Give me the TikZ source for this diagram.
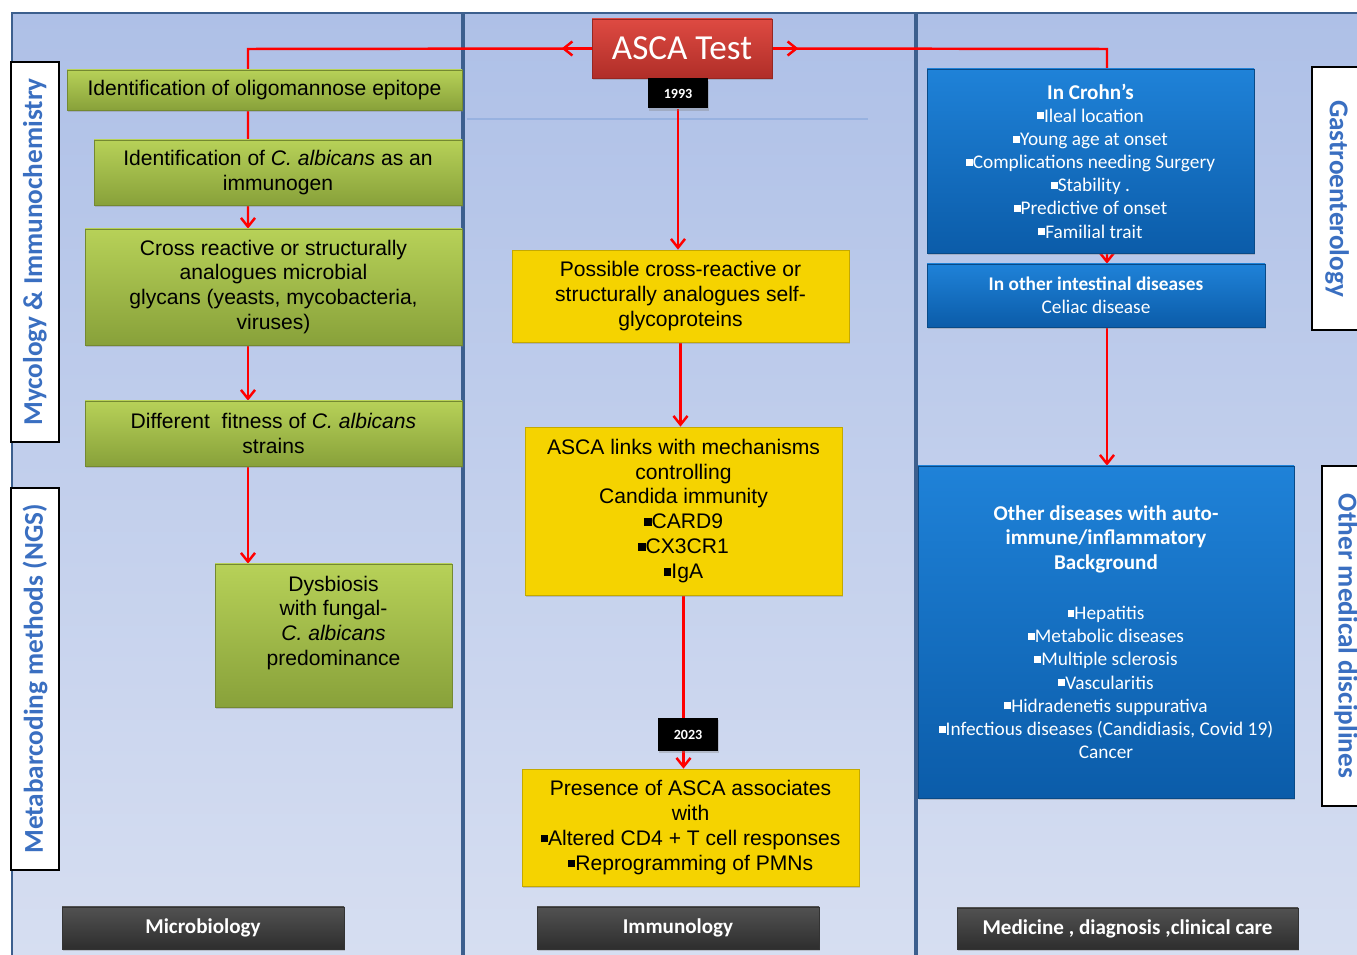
\documentclass[tikz,border=0pt]{standalone}
\usepackage{fontspec}
\setmainfont{Liberation Sans}
\newfontfamily\calib{Carlito}
\usetikzlibrary{arrows.meta,shadows}

\definecolor{panelTop}{HTML}{AEC0E7}
\definecolor{panelBot}{HTML}{D6DEF1}
\definecolor{divider}{HTML}{3C5F8E}
\definecolor{faint}{HTML}{98B2E0}
\definecolor{greenTop}{HTML}{B7D158}
\definecolor{greenBot}{HTML}{88A13A}
\definecolor{yellowFill}{HTML}{F5D300}
\definecolor{blueTop}{HTML}{1F82D8}
\definecolor{blueBot}{HTML}{0B5CA9}
\definecolor{redTop}{HTML}{DE4A42}
\definecolor{redBot}{HTML}{B02E28}
\definecolor{labelBlue}{HTML}{3A6FC1}

\newcommand{\bul}{\rule[0.15em]{0.36em}{0.36em}}
\newcommand{\ttl}[1]{{\bfseries\fontsize{12}{14.4}\selectfont #1}}

\pgfdeclarelayer{background}
\pgfdeclarelayer{wires}
\pgfsetlayers{background,wires,main}

\tikzset{
  box/.style 2 args={rectangle, minimum width=#1*0.02cm, minimum height=#2*0.02cm,
    inner sep=2pt, align=center},
  shadowed/.style={drop shadow={shadow xshift=0.8pt, shadow yshift=-1.2pt, opacity=0.35}},
  greentext/.style={font=\fontsize{12}{14.2}\selectfont, align=center},
  greenbox/.style={shadowed, draw=greenBot!85!black, top color=greenTop, bottom color=greenBot, greentext},
  yellowbox/.style={shadowed, draw=yellowFill!80!black, fill=yellowFill, greentext},
  bluebox/.style={shadowed, draw=blueBot!80!black, top color=blueTop, bottom color=blueBot,
    text=white, font=\calib\fontsize{11}{13.2}\selectfont},
  redbox/.style={shadowed, draw=redBot!85!black, top color=redTop, bottom color=redBot,
    text=white, font=\calib\fontsize{20}{24}\selectfont},
  yearbox/.style={shadowed, fill=black, text=white, font=\calib\bfseries\fontsize{8}{9}\selectfont},
  fieldbox/.style={shadowed, draw=black!80, top color=black!68, bottom color=black!82,
    text=white, font=\calib\bfseries\fontsize{12}{14}\selectfont},
  sidebox/.style={fill=white, draw=black, line width=1.6pt, text=labelBlue,
    font=\calib\bfseries\fontsize{15.5}{18}\selectfont},
  link/.style={red, line width=1.4pt, -{Straight Barb[length=5pt,width=8pt]}}
}

\begin{document}
\begin{tikzpicture}[x=0.02cm, y=-0.02cm]
  \useasboundingbox (0,0) rectangle (1357,955);
  \begin{pgfonlayer}{background}
    \shade[top color=panelTop, bottom color=panelBot] (12,13) rectangle (1357,955);
    \draw[divider, line width=1pt] (12,955) -- (12,13) -- (1357,13);
    \draw[divider, line width=2.2pt] (463,13) -- (463,955);
    \draw[divider, line width=2.2pt] (916,13) -- (916,955);
    \draw[faint, line width=0.6pt] (467,119) -- (868,119);
  \end{pgfonlayer}

  % side labels
  \node[sidebox, box={380}{48}, rotate=90] (myco) at (35,252) {Mycology \& Immunochemistry};
  \node[sidebox, box={382}{48}, rotate=90] (meta) at (35,679) {Metabarcoding methods (NGS)};
  \node[sidebox, box={263}{50}, rotate=-90] (gastro) at (1337,198.5) {Gastroenterology};
  \node[sidebox, box={340}{48}, rotate=-90] (othmed) at (1346,636) {Other medical disciplines};

  % microbiology column
  \node[greenbox, box={395}{40}] (g1) at (264.5,90) {Identification of oligomannose epitope};
  \node[greenbox, box={368}{65}] (g2) at (278,172.5) {Identification of \textit{C. albicans} as an\\immunogen};
  \node[greenbox, box={377}{116}] (g3) at (273.5,287) {Cross reactive or structurally\\analogues microbial\\glycans (yeasts, mycobacteria,\\viruses)};
  \node[greenbox, box={377}{65}] (g4) at (273.5,433.5) {Different\ \ fitness of \textit{C. albicans}\\strains};
  \node[greenbox, box={237}{143}, label={[greentext, yshift=0.25cm]center:Dysbiosis\\with fungal-\\\textit{C. albicans}\\predominance}] (g5) at (333.5,635.5) {};

  % immunology column
  \node[redbox, box={180}{59}] (asca) at (682,48.5) {ASCA Test};
  \node[yearbox, box={60}{30}] (y1993) at (678,93.5) {1993};
  \node[yellowbox, box={337}{92}] (y1) at (680.5,296) {Possible cross-reactive or\\structurally analogues self-\\glycoproteins};
  \node[yellowbox, box={317}{168}] (y2) at (683.5,511) {ASCA links with mechanisms\\controlling\\Candida immunity\\\bul CARD9\\\bul CX3CR1\\\bul IgA};
  \node[yearbox, box={60}{33}] (y2023) at (688,734.5) {2023};
  \node[yellowbox, box={337}{117}] (y3) at (690.5,827.5) {Presence of ASCA associates\\with\\\bul Altered CD4 + T cell responses\\\bul Reprogramming of PMNs};

  % medicine column
  \node[bluebox, box={327}{184}] (b1) at (1090.5,161) {\ttl{In Crohn’s}\\\bul Ileal location\\\bul Young age at onset\\\bul Complications needing Surgery\\\bul Stability .\\\bul Predictive of onset\\\bul Familial trait};
  \node[bluebox, box={338}{63}] (b2) at (1096,295.5) {\textbf{In other intestinal diseases}\\Celiac disease};
  \node[bluebox, box={376}{332}] (b3) at (1106,632) {\ttl{Other diseases with auto-}\\[1pt]\ttl{immune/inflammatory}\\[1pt]\ttl{Background}\\[15pt]\bul Hepatitis\\\bul Metabolic diseases\\\bul Multiple sclerosis\\\bul Vascularitis\\\bul Hidradenetis suppurativa\\\bul Infectious diseases (Candidiasis, Covid 19)\\Cancer};

  % fields
  \node[fieldbox, box={282}{42}] (micro) at (203,928) {Microbiology};
  \node[fieldbox, box={282}{42}] (immuno) at (678,928) {Immunology};
  \node[fieldbox, box={341}{41}] (medic) at (1127.5,928.5) {Medicine , diagnosis ,clinical care};

  % connectors
  \coordinate (lc) at (248,49);
  \coordinate (rc) at (1107,49);
  \begin{pgfonlayer}{wires}
    \draw[link] (asca.west) -- ++(-30,0);
    \draw[link] (asca.east) -- ++(26,0);
    \draw[link] (asca.west) -- (lc) -- (lc |- g3.north);
    \draw[link] (lc |- g3.south) -- (lc |- g4.north);
    \draw[link] (lc |- g4.south) -- (lc |- g5.north);
    \draw[link] (asca.east) -- (rc) -- (rc |- b2.north);
    \draw[link] (rc |- b2.south) -- (rc |- b3.north);
    \draw[link] (y1993.south) -- (y1993.south |- y1.north);
    \draw[link] (y1.south) -- (y1.south |- y2.north);
    \draw[link] (y2.south) -- (y2.south |- y3.north);
  \end{pgfonlayer}
\end{tikzpicture}
\end{document}
